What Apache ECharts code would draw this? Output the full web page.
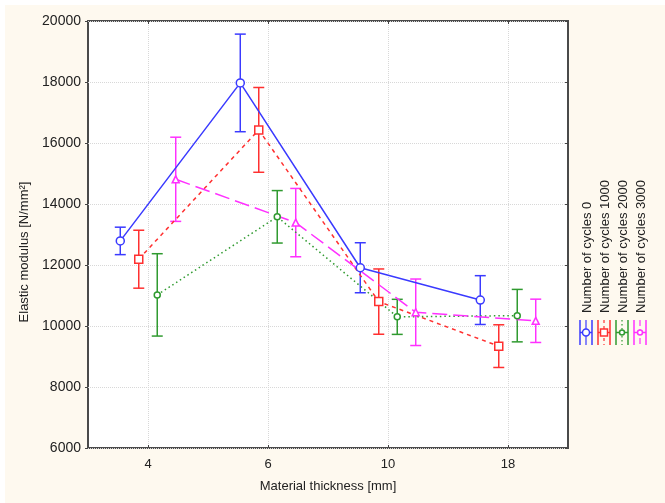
<!DOCTYPE html>
<html><head><meta charset="utf-8">
<script src="https://cdn.jsdelivr.net/npm/echarts@6/dist/echarts.min.js"></script>
<style>html,body{margin:0;padding:0;background:#fff}#c{width:665px;height:503px}</style>
</head><body><div id="c"></div>
<script>
// ---- data ----
const categories = ['4', '6', '10', '18'];
const seriesNames = ['Number of cycles 0', 'Number of cycles 1000', 'Number of cycles 2000', 'Number of cycles 3000'];
const meansCycles0    = [12790, 17970, 11910, 10850];
const errsCycles0     = [450, 1600, 820, 800];
const meansCycles1000 = [12190, 16430, 10800, 9340];
const errsCycles1000  = [950, 1390, 1070, 700];
const meansCycles2000 = [11020, 13580, 10300, 10340];
const errsCycles2000  = [1350, 860, 575, 860];
const meansCycles3000 = [14810, 13390, 10450, 10170];
const errsCycles3000  = [1380, 1120, 1090, 710];
const yMin = 6000, yMax = 20000, yStep = 2000;
const xTitle = 'Material thickness [mm]';
const yTitle = 'Elastic modulus [N/mm\u00B2]';

// ---- styles ----
const means = [meansCycles0, meansCycles1000, meansCycles2000, meansCycles3000];
const errs = [errsCycles0, errsCycles1000, errsCycles2000, errsCycles3000];
const colors = ['#3a3aff', '#ff3030', '#2f9a2f', '#ff30ff'];
const dodge = [-0.231, -0.077, 0.077, 0.231];
const lineTypes = ['solid', [4, 4], [1.5, 3], [15, 6]];
const symbols = ['circle', 'rect', 'circle', 'triangle'];
const symbolSizes = [8, 8, 6, 7];
const FONT = '"Liberation Sans", Arial, sans-serif';

// axis with half-step slots so that labels/gridlines sit at category centres
const slotLabels = [''];
categories.forEach(c => { slotLabels.push(c, ''); });
const isCentre = (idx) => idx % 2 === 1;

const series = [];
for (let k = 0; k < 4; k++) {
  const pts = categories.map((c, i) => [i + 0.5 + dodge[k], means[k][i]]);
  const bars = categories.map((c, i) => [i + 0.5 + dodge[k], means[k][i] - errs[k][i], means[k][i] + errs[k][i]]);
  const col = colors[k];
  series.push({
    type: 'custom', name: seriesNames[k], xAxisIndex: 1, yAxisIndex: 0, z: 2,
    silent: true, data: bars, clip: false,
    renderItem: function (params, api) {
      const x = api.value(0), lo = api.value(1), hi = api.value(2);
      const p1 = api.coord([x, hi]), p2 = api.coord([x, lo]);
      const w = 5.5;
      const st = { stroke: col, lineWidth: 1.5 };
      return { type: 'group', children: [
        { type: 'line', shape: { x1: p1[0], y1: p1[1], x2: p2[0], y2: p2[1] }, style: st },
        { type: 'line', shape: { x1: p1[0] - w, y1: p1[1], x2: p1[0] + w, y2: p1[1] }, style: st },
        { type: 'line', shape: { x1: p2[0] - w, y1: p2[1], x2: p2[0] + w, y2: p2[1] }, style: st }
      ]};
    }
  });
  series.push({
    type: 'line', name: seriesNames[k] + ' mean', xAxisIndex: 1, yAxisIndex: 0, z: 3,
    data: pts, symbol: symbols[k], symbolSize: symbolSizes[k], showAllSymbol: true,
    lineStyle: { color: col, width: 1.5, type: lineTypes[k] },
    itemStyle: { color: '#fff', borderColor: col, borderWidth: 1.5 },
    animation: false, silent: true
  });
}

// ---- legend drawn as graphics (rotated text) ----
const legendGraphics = [];
const legX0 = 586, legStep = 18, iconTop = 320, iconBot = 345;
for (let k = 0; k < 4; k++) {
  const cx = legX0 + k * legStep, col = colors[k], cy = (iconTop + iconBot) / 2;
  legendGraphics.push(
    { type: 'line', shape: { x1: cx - 6, y1: iconTop, x2: cx - 6, y2: iconBot }, style: { stroke: col, lineWidth: 1.5 } },
    { type: 'line', shape: { x1: cx + 6, y1: iconTop, x2: cx + 6, y2: iconBot }, style: { stroke: col, lineWidth: 1.5 } },
    { type: 'line', shape: { x1: cx - 6, y1: cy, x2: cx + 6, y2: cy }, style: { stroke: col, lineWidth: 1.5 } },
    { type: 'line', shape: { x1: cx, y1: iconTop, x2: cx, y2: iconBot }, style: { stroke: col, lineWidth: 1.2, lineDash: k === 0 ? null : (k === 1 ? [3, 3] : (k === 2 ? [1.5, 2.5] : [6, 3])) } },
    { type: symbols[k] === 'rect' ? 'rect' : 'circle',
      shape: symbols[k] === 'rect' ? { x: cx - 3.5, y: cy - 3.5, width: 7, height: 7 } : { cx: cx, cy: cy, r: k === 0 ? 3.5 : 2.5 },
      style: { fill: '#fff', stroke: col, lineWidth: 1.5 } },
    { type: 'text', x: cx + 1, y: 313, rotation: Math.PI / 2,
      style: { text: seriesNames[k], fill: '#222', font: '13px ' + FONT, align: 'left', verticalAlign: 'middle' } }
  );
}

const chart = echarts.init(document.getElementById('c'), null, { renderer: 'canvas' });
chart.setOption({
  animation: false,
  backgroundColor: '#ffffff',
  textStyle: { fontFamily: FONT },
  graphic: [
    { type: 'rect', z: -10, shape: { x: 5, y: 5, width: 660, height: 498 }, style: { fill: '#fef9ef' } },
    { type: 'text', x: 24, y: 252, rotation: Math.PI / 2,
      style: { text: yTitle, fill: '#222', font: '13px ' + FONT, align: 'center', verticalAlign: 'middle' } }
  ].concat(legendGraphics),
  grid: { left: 88, right: 97, top: 21, bottom: 55, show: true, backgroundColor: '#ffffff', borderColor: '#4a4a4a', borderWidth: 2 },
  xAxis: [
    { type: 'category', data: slotLabels, boundaryGap: false, position: 'bottom',
      axisLine: { show: false },
      axisTick: { show: true, inside: true, interval: isCentre, length: 3, lineStyle: { color: '#444' } },
      axisLabel: { color: '#222', fontSize: 13, margin: 10, interval: isCentre },
      splitLine: { show: true, interval: isCentre, lineStyle: { color: '#d8d8d8', type: 'dotted' } },
      name: xTitle, nameLocation: 'middle', nameGap: 32, nameTextStyle: { color: '#222', fontSize: 13 } },
    { type: 'value', min: 0, max: 4, show: false },
    { type: 'category', data: slotLabels, boundaryGap: false, position: 'top',
      axisLine: { show: false }, axisLabel: { show: false },
      axisTick: { show: true, inside: true, interval: isCentre, length: 3, lineStyle: { color: '#444' } },
      splitLine: { show: false } }
  ],
  yAxis: [
    { type: 'value', min: yMin, max: yMax, interval: yStep,
      axisLine: { show: false },
      axisTick: { show: true, inside: false, length: 3, lineStyle: { color: '#444' } },
      axisLabel: { color: '#222', fontSize: 14, margin: 7, formatter: (v) => String(v) },
      splitLine: { show: true, lineStyle: { color: '#d8d8d8', type: 'dotted' } } },
    { type: 'value', min: yMin, max: yMax, interval: yStep, position: 'right',
      axisLine: { show: false }, axisLabel: { show: false },
      axisTick: { show: true, inside: true, length: 3, lineStyle: { color: '#444' } },
      splitLine: { show: false } }
  ],
  series: series
});
</script>
</body></html>
